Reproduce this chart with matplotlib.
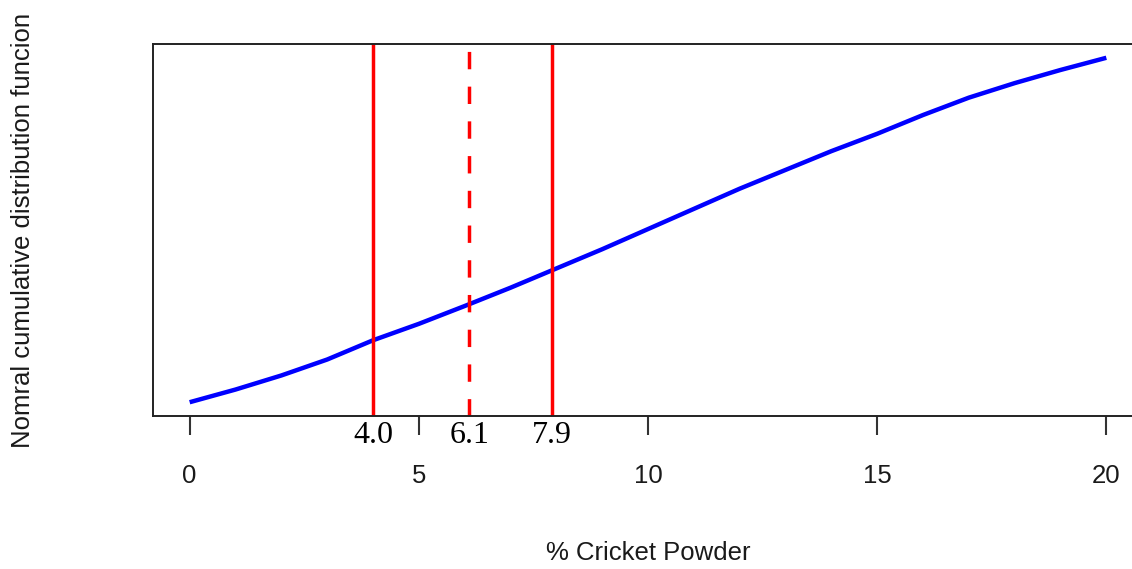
import numpy as np
import matplotlib.pyplot as plt

# значення кривої (нормальна функція розподілу)
pct = [0, 1, 2, 3, 4, 5, 6, 7, 8, 9, 10, 11, 12, 13, 14, 15, 16, 17, 18, 19, 20]
cdf = [0.133, 0.160, 0.190, 0.224, 0.265, 0.300, 0.338, 0.377, 0.418, 0.459, 0.502,
       0.545, 0.588, 0.628, 0.668, 0.705, 0.745, 0.782, 0.813, 0.841, 0.867]

# вертикальні лінії
cuts = [4.0, 6.1, 7.9]
cut_styles = ['-', (0, (5, 5)), '-']
xticks = [0, 5, 10, 15, 20]

W, H = 1132, 569
fig = plt.figure(figsize=(W / 100, H / 100), dpi=100)
ax = fig.add_axes([153 / W, 1 - 416 / H, 990 / W, 372 / H])

ax.plot(pct, cdf, color='blue', lw=3.2, solid_capstyle='butt')
for c, ls in zip(cuts, cut_styles):
    ax.axvline(c, color='red', lw=2.5, ls=ls)
    ax.text(c, -0.053, f'{c:.1f}', transform=ax.get_xaxis_transform(),
            ha='center', va='center', fontsize=23, family='Liberation Serif')

rng = max(cdf) - min(cdf)
ax.set_xlim(-0.8, 20.8)
ax.set_ylim(min(cdf) - 0.04 * rng, max(cdf) + 0.04 * rng)

ax.set_xticks(xticks)
ax.set_xticklabels([str(t) for t in xticks], family='Liberation Sans', fontsize=18.5, color='#1a1a1a')
ax.tick_params(axis='x', length=13.5, width=1.5, pad=21, color='#333')
ax.set_yticks([])
for s in ax.spines.values():
    s.set_linewidth(1.4)
    s.set_color('#222')

fig.text(648 / W, 1 - 553 / H, '% Cricket Powder', ha='center', va='center',
         fontsize=18.5, family='Liberation Sans', color='#1a1a1a')
fig.text(23 / W, 1 - 230 / H, 'Nomral cumulative distribution funcion', ha='center', va='center',
         rotation=90, fontsize=18.5, family='Liberation Sans', color='#1a1a1a')

fig.savefig('out.png', dpi=100)
